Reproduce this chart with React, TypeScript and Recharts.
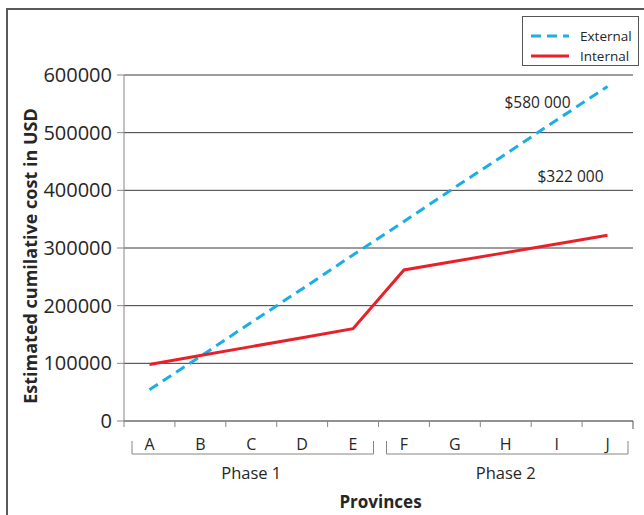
import React from 'react';
import { LineChart, Line, XAxis, YAxis, CartesianGrid, Legend, Label } from 'recharts';

// values
const provinces = ['A', 'B', 'C', 'D', 'E', 'F', 'G', 'H', 'I', 'J'];
const externalCost = [54000, 112000, 171000, 229000, 288000, 346000, 405000, 463000, 522000, 580000];
const internalCost = [98000, 113500, 129000, 144500, 160000, 262000, 277000, 292000, 307000, 322000];
const yTicks = [0, 100000, 200000, 300000, 400000, 500000, 600000];
const phases = [
  { name: 'Phase 1', first: 0, last: 4 },
  { name: 'Phase 2', first: 5, last: 9 },
];
const externalEndLabel = '$580 000';
const internalEndLabel = '$322 000';

const data = provinces.map((p, i) => ({
  province: p,
  external: externalCost[i],
  internal: internalCost[i],
}));

const FONT = '"Open Sans", "Noto Sans", sans-serif';
const TEXT = '#262626';
const AXIS = '#868686';

const W = 636;
const H = 505;
const margin = { top: 65, right: 11, left: 0, bottom: 0 };
const Y_W = 116;
const X_H = 94;
const band = (W - margin.left - margin.right - Y_W) / provinces.length;

const ProvinceTick = (props: any) => {
  const { x, y, payload, index } = props;
  const i = typeof index === 'number' ? index : provinces.indexOf(payload.value);
  const parts: React.ReactNode[] = [];
  parts.push(<line key="t" x1={x - band / 2} x2={x - band / 2} y1={y} y2={y + 6} stroke={AXIS} />);
  if (i === provinces.length - 1) {
    parts.push(<line key="te" x1={x + band / 2} x2={x + band / 2} y1={y} y2={y + 8} stroke="#555" />);
  }
  parts.push(
    <text key="l" x={x} y={y + 29} textAnchor="middle" fontSize={16} fill={TEXT} fontFamily={FONT}>
      {payload.value}
    </text>
  );
  phases.forEach((ph) => {
    if (i === ph.first) {
      const bx = x - band / 2 + 8;
      parts.push(<line key={ph.name + 'a'} x1={bx} x2={bx} y1={y + 20} y2={y + 33} stroke={AXIS} />);
    }
    if (i === ph.last) {
      const bx0 = x - (ph.last - ph.first) * band - band / 2 + 8;
      const bx1 = x + band / 2 - 5;
      parts.push(<line key={ph.name + 'b'} x1={bx1} x2={bx1} y1={y + 20} y2={y + 33} stroke={AXIS} />);
      parts.push(<line key={ph.name + 'h'} x1={bx0} x2={bx1} y1={y + 33} y2={y + 33} stroke={AXIS} />);
      parts.push(
        <text key={ph.name + 'n'} x={x - ((ph.last - ph.first) * band) / 2} y={y + 58} textAnchor="middle"
          fontSize={16.5} fill={TEXT} fontFamily={FONT}>
          {ph.name}
        </text>
      );
    }
  });
  return <g>{parts}</g>;
};

const endLabel = (text: string, dx: number, dy: number) => (p: any) => {
  if (p.index !== provinces.length - 1) return <g />;
  return (
    <text x={p.x + dx} y={p.y + dy} textAnchor="middle" fontSize={15.5} fill={TEXT} fontFamily={FONT}>
      {text}
    </text>
  );
};

const LegendBox = (props: any) => {
  const items = props.payload || [];
  return (
    <div style={{ border: '1px solid #555', background: '#fff', width: 115, height: 48 }}>
      <svg width={115} height={48} style={{ display: 'block' }}>
        {items.map((it: any, k: number) => (
          <g key={it.value}>
            <line x1={8} x2={46} y1={19 + k * 20} y2={19 + k * 20} stroke={it.color} strokeWidth={3}
              strokeDasharray={it.payload?.strokeDasharray} />
            <text x={57} y={24 + k * 20} fontSize={13.5} fill={TEXT} fontFamily={FONT}>{it.value}</text>
          </g>
        ))}
      </svg>
    </div>
  );
};

export default function App() {
  return (
    <div style={{ position: 'absolute', left: 6, top: 8, borderLeft: '2px solid #5a5a5a', borderTop: '2px solid #5a5a5a', width: W, height: H, overflow: 'hidden' }}>
      <LineChart width={W} height={H} data={data} margin={margin}>
        <CartesianGrid vertical={false} stroke="#3a3a3a" />
        <XAxis dataKey="province" height={X_H} tick={<ProvinceTick />} tickLine={false} tickSize={0} tickMargin={0}
          axisLine={{ stroke: AXIS }} interval={0} padding={{ left: band / 2, right: band / 2 }}>
          <Label
            content={(p: any) => (
              <text x={p.viewBox.x + p.viewBox.width / 2 + 2} y={p.viewBox.y + 87} textAnchor="middle"
                fontSize={17} fontWeight="bold" fill={TEXT} fontFamily={FONT}>
                Provinces
              </text>
            )}
          />
        </XAxis>
        <YAxis width={Y_W} domain={[0, 600000]} ticks={yTicks} tickSize={7} tickMargin={5}
          tick={{ fontSize: 20, fill: TEXT, fontFamily: FONT }} axisLine={{ stroke: AXIS }} tickLine={{ stroke: AXIS }}>
          <Label
            content={(p: any) => {
              const cx = p.viewBox.x + 22;
              const cy = p.viewBox.y + p.viewBox.height / 2 + 8;
              return (
                <text x={cx} y={cy} transform={`rotate(-90 ${cx} ${cy})`} textAnchor="middle" dominantBaseline="central"
                  fontSize={18} fontWeight="bold" fill={TEXT} fontFamily={FONT}>
                  Estimated cumilative cost in USD
                </text>
              );
            }}
          />
        </YAxis>
        <YAxis yAxisId="frame" orientation="right" width={0} domain={[0, 600000]} tick={false} tickLine={false}
          axisLine={{ stroke: '#555' }} />
        <Legend layout="vertical" align="center" verticalAlign="middle" content={<LegendBox />}
          wrapperStyle={{ top: 6, left: 514, width: 117, height: 50 }} />
        <Line type="linear" dataKey="external" name="External" stroke="#1aaee5" strokeWidth={3}
          strokeDasharray="10 6" dot={false} activeDot={false} isAnimationActive={false}
          label={endLabel(externalEndLabel, -70, 21)} />
        <Line type="linear" dataKey="internal" name="Internal" stroke="#e8202a" strokeWidth={3}
          dot={false} activeDot={false} isAnimationActive={false}
          label={endLabel(internalEndLabel, -37, -53)} />
      </LineChart>
    </div>
  );
}
